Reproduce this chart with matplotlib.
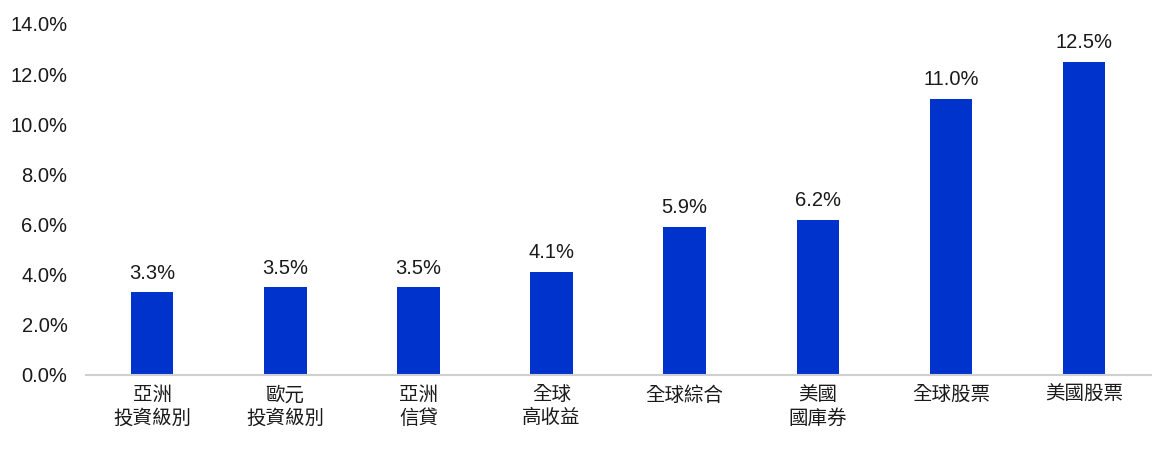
import matplotlib
matplotlib.use('Agg')
from matplotlib import pyplot as plt

categories = ['亞洲\n投資級別', '歐元\n投資級別', '亞洲\n信貸', '全球\n高收益',
              '全球綜合', '美國\n國庫券', '全球股票', '美國股票']
values = [3.3, 3.5, 3.5, 4.1, 5.9, 6.2, 11.0, 12.5]
yticks = [0, 2, 4, 6, 8, 10, 12, 14]

plt.rcParams['font.family'] = ['Liberation Sans', 'Noto Sans CJK TC', 'DejaVu Sans']


def main():
    fig = plt.figure(figsize=(11.59, 4.5), dpi=100)
    ax = fig.add_axes([0.0738, 0.1667, 0.919, 0.78])

    x = range(len(categories))
    bars = ax.bar(x, values, width=0.32, color='#0033CC', zorder=2)

    # Value labels above bars.
    for b, v in zip(bars, values):
        ax.annotate(f'{v:.1f}%', (b.get_x() + b.get_width() / 2, v),
                    xytext=(0, 7), textcoords='offset points',
                    ha='center', va='bottom', fontsize=14.5, color='#1a1a1a')

    ax.set_xlim(-0.5, len(categories) - 0.5)
    ax.set_ylim(0, 14)
    ax.set_yticks(yticks)
    ax.set_yticklabels([f'{t:.1f}%' for t in yticks], fontsize=14.5)
    ax.set_xticks(list(x))
    ax.set_xticklabels(categories, linespacing=1.35, fontsize=14)

    for s in ['top', 'right', 'left']:
        ax.spines[s].set_visible(False)
    ax.spines['bottom'].set_color('#d0d0d0')
    ax.spines['bottom'].set_linewidth(1.5)
    ax.tick_params(axis='both', length=0, colors='#1a1a1a')
    ax.tick_params(axis='x', pad=8)
    ax.tick_params(axis='y', pad=13)

    fig.savefig('out.png', dpi=100)


if __name__ == '__main__':
    main()
